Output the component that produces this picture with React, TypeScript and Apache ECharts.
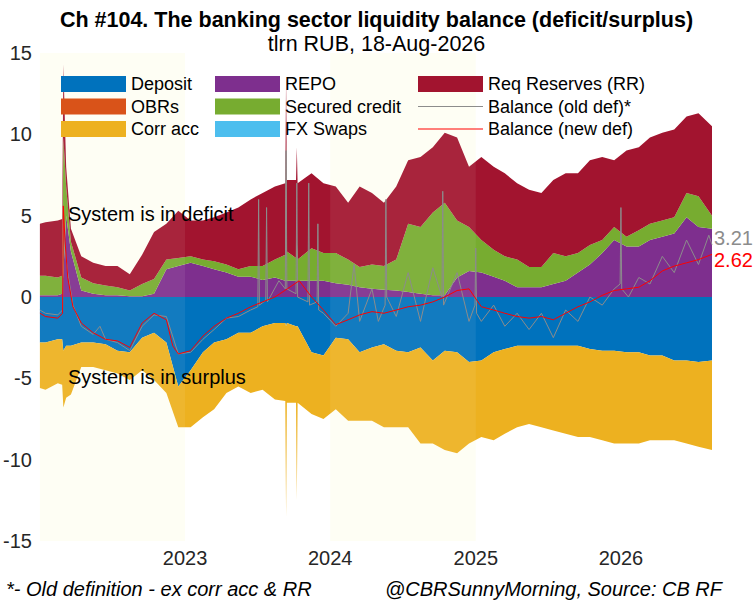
import React, { useEffect, useRef } from 'react';
import * as echarts from 'echarts';

// stacked components, tlrn RUB (deposit and corr acc drawn below zero)
const stackDates = [
  '2022-01-01', '2022-01-15', '2022-02-15', '2022-02-26', '2022-03-01', '2022-03-08', '2022-03-20',
  '2022-04-15', '2022-05-15', '2022-06-15', '2022-07-15', '2022-08-15', '2022-09-15', '2022-10-15',
  '2022-11-15', '2022-12-15', '2023-01-15', '2023-02-15', '2023-03-15', '2023-04-15', '2023-05-15',
  '2023-06-15', '2023-07-15', '2023-08-15', '2023-09-10', '2023-09-12', '2023-09-14', '2023-10-07',
  '2023-10-09', '2023-10-11', '2023-11-15', '2023-12-15', '2024-01-15', '2024-02-15', '2024-03-15',
  '2024-04-15', '2024-05-15', '2024-06-15', '2024-07-15', '2024-08-15', '2024-09-15', '2024-10-15',
  '2024-11-15', '2024-12-15', '2025-01-15', '2025-02-15', '2025-03-15', '2025-04-15', '2025-05-15',
  '2025-06-15', '2025-07-15', '2025-08-15', '2025-09-15', '2025-10-15', '2025-11-15', '2025-12-15',
  '2026-01-15', '2026-02-15', '2026-03-15', '2026-04-15', '2026-05-15', '2026-06-15', '2026-07-15',
  '2026-08-18',
];
const deposit = [
  -2.8, -2.8, -2.6, -2.6, -3.3, -3.0, -3.0, -2.8, -2.8, -2.9, -3.3, -3.4, -2.5, -2.2,
  -2.8, -5.5, -4.5, -3.4, -2.8, -2.6, -2.2, -2.2, -1.8, -1.6, -1.6, -1.8, -1.6, -1.8,
  -1.8, -1.8, -3.4, -3.6, -2.5, -2.6, -3.4, -3.1, -2.9, -3.3, -3.4, -3.1, -3.9, -3.3,
  -3.4, -4.0, -3.9, -3.4, -3.2, -3.0, -3.0, -3.0, -3.0, -3.0, -3.0, -3.2, -3.3, -3.3,
  -3.4, -3.4, -3.6, -3.6, -3.9, -3.9, -4.0, -3.9,
];
const corrAcc = [
  -2.8, -2.9, -2.7, -2.8, -3.5, -3.2, -3.0, -1.5, -1.5, -1.6, -1.4, -1.7, -2.0, -2.9,
  -3.1, -2.5, -3.5, -4.0, -4.1, -3.3, -3.3, -3.7, -3.9, -4.7, -4.8, -11.7, -4.9, -4.7,
  -10.7, -4.7, -3.8, -3.9, -4.4, -5.0, -4.2, -4.5, -5.1, -4.7, -4.6, -5.9, -5.1, -6.1,
  -6.2, -5.0, -4.7, -5.4, -5.2, -5.0, -4.8, -5.0, -5.2, -5.4, -5.6, -5.4, -5.5, -5.7,
  -5.6, -5.6, -5.2, -5.2, -4.9, -5.1, -5.2, -5.5,
];
const repo = [
  0.1, 0.1, 0.1, 0.2, 1.5, 5.0, 2.8, 0.4, 0.2, 0.1, 0.1, 0.05, 0.05, 0.2,
  1.7, 1.9, 2.1, 1.9, 1.7, 1.5, 1.25, 1.25, 1.05, 1.2, 1.0, 1.0, 1.0, 1.0,
  1.0, 1.0, 1.0, 1.0, 0.85, 0.75, 0.6, 0.5, 0.45, 0.4, 0.3, 0.2, 0.1, 0.1,
  1.2, 1.6, 1.5, 1.25, 1.0, 0.6, 0.6, 0.6, 0.8, 1.0, 1.5, 2.0, 2.7, 3.5,
  3.1, 3.1, 3.5, 3.7, 3.9, 4.9, 4.3, 4.2,
];
const securedCredit = [
  1.2, 1.2, 1.1, 1.1, 8.3, 1.8, 0.6, 0.8, 0.65, 0.6, 0.5, 0.35, 0.75, 0.9,
  0.6, 0.5, 0.4, 0.4, 0.5, 0.5, 0.45, 0.65, 0.85, 1.1, 1.6, 8.5, 1.8, 1.4,
  2.5, 1.3, 2.0, 1.7, 1.85, 1.55, 1.25, 1.5, 1.45, 1.9, 4.2, 4.1, 5.1, 5.7,
  3.5, 2.7, 2.0, 1.65, 1.5, 1.7, 1.25, 1.25, 1.9, 1.5, 1.2, 1.2, 0.8, 0.8,
  0.6, 1.0, 1.0, 1.0, 1.0, 1.5, 1.9, 0.8,
];
const reqReserves = [
  3.2, 3.3, 3.5, 3.5, 4.5, 1.2, 0.8, 1.3, 1.25, 1.2, 1.3, 1.0, 1.8, 2.9,
  2.2, 2.9, 2.2, 2.4, 2.7, 3.2, 3.8, 4.1, 4.5, 4.5, 4.4, 4.0, 4.4, 4.8,
  5.7, 4.7, 4.6, 4.3, 4.1, 3.5, 4.95, 4.4, 3.9, 4.5, 3.9, 4.3, 4.0, 4.3,
  5.1, 3.7, 5.1, 5.1, 5.1, 4.7, 4.75, 4.55, 4.5, 5.1, 4.9, 5.2, 5.1, 4.1,
  5.3, 5.1, 5.3, 5.4, 5.4, 4.7, 5.1, 5.5,
];

// balance, new definition
const newDefDates = [
  '2022-01-01', '2022-01-15', '2022-02-15', '2022-02-27', '2022-03-01', '2022-03-05', '2022-03-12',
  '2022-03-25', '2022-04-15', '2022-05-15', '2022-06-15', '2022-07-15', '2022-08-15', '2022-09-15',
  '2022-10-15', '2022-11-15', '2022-12-01', '2022-12-15', '2023-01-15', '2023-02-15', '2023-03-15',
  '2023-04-15', '2023-05-15', '2023-06-15', '2023-07-15', '2023-08-15', '2023-09-15', '2023-10-15',
  '2023-11-15', '2023-12-15', '2024-01-15', '2024-02-15', '2024-03-15', '2024-04-15', '2024-05-15',
  '2024-06-15', '2024-07-15', '2024-08-15', '2024-09-15', '2024-10-15', '2024-11-15', '2024-12-15',
  '2025-01-15', '2025-02-15', '2025-03-15', '2025-04-15', '2025-05-15', '2025-06-15', '2025-07-15',
  '2025-08-15', '2025-09-15', '2025-10-15', '2025-11-15', '2025-12-15', '2026-01-15', '2026-02-15',
  '2026-03-15', '2026-04-15', '2026-05-15', '2026-06-15', '2026-07-15', '2026-08-18',
];
const balanceNew = [
  -1.0, -1.2, -1.3, -1.0, 5.6, 3.5, 1.2, -0.6, -1.6, -2.2, -2.6, -2.7, -3.1, -1.6,
  -1.0, -1.4, -3.0, -3.5, -3.3, -2.4, -1.8, -1.3, -1.0, -0.6, -0.3, 0.0, 0.5, 1.0,
  0.0, -0.8, -1.7, -1.4, -1.1, -0.9, -1.0, -0.8, -0.6, -0.5, -0.3, 0.0, 0.4, 0.5,
  -0.6, -0.8, -1.0, -1.2, -1.3, -1.2, -1.4, -1.0, -0.6, -0.3, 0.1, 0.4, 0.5, 0.6,
  1.0, 1.6, 1.9, 2.1, 2.3, 2.62,
];

// balance, old definition (ex corr acc & RR)
const oldDefDates = [
  '2022-01-01', '2022-01-15', '2022-02-15', '2022-02-27', '2022-03-01', '2022-03-05',
  '2022-03-12', '2022-03-25', '2022-04-15', '2022-05-15', '2022-06-01', '2022-06-15',
  '2022-07-15', '2022-08-15', '2022-09-15', '2022-10-15', '2022-11-15', '2022-12-15',
  '2023-01-15', '2023-02-15', '2023-03-15', '2023-04-15', '2023-05-15', '2023-06-15',
  '2023-07-03', '2023-07-05', '2023-07-07', '2023-07-23', '2023-07-25', '2023-07-27',
  '2023-08-25', '2023-09-10', '2023-09-12', '2023-09-14', '2023-10-07', '2023-10-09',
  '2023-10-11', '2023-11-06', '2023-11-08', '2023-11-10', '2023-11-29', '2023-12-01',
  '2023-12-03', '2023-12-15', '2024-01-15', '2024-02-15', '2024-03-01', '2024-03-15',
  '2024-04-15', '2024-05-01', '2024-05-18', '2024-05-20', '2024-05-22', '2024-06-15',
  '2024-07-15', '2024-08-15', '2024-09-15', '2024-10-08', '2024-10-10', '2024-10-12',
  '2024-11-15', '2024-12-15', '2024-12-30', '2025-01-01', '2025-01-03', '2025-01-15',
  '2025-02-15', '2025-03-15', '2025-04-15', '2025-05-15', '2025-06-15', '2025-07-15',
  '2025-08-15', '2025-09-15', '2025-10-15', '2025-11-15', '2025-12-15', '2025-12-30',
  '2026-01-01', '2026-01-03', '2026-01-20', '2026-02-15', '2026-03-15', '2026-04-15',
  '2026-05-15', '2026-06-15', '2026-07-15', '2026-08-10', '2026-08-18',
];
const balanceOld = [
  -0.8, -1.0, -1.1, -0.8, 5.0, 3.0,
  1.5, -0.5, -1.8, -2.3, -1.8, -2.6,
  -2.8, -3.3, -1.8, -1.1, -1.2, -3.5,
  -3.4, -2.6, -2.0, -1.3, -1.2, -0.8,
  -0.6, 6.0, -0.5, -0.2, 5.5, -0.3,
  1.0, 0.5, 9.0, 0.5, 0.2, 7.0,
  0.0, -0.3, 7.0, -0.5, -0.3, 4.5,
  -0.8, -1.0, -1.8, -1.0, 2.0, -1.5,
  0.5, -1.5, -0.5, 6.0, 0.0, -1.2,
  1.5, -1.5, 1.8, 0.0, 6.5, -0.5,
  1.5, -1.5, -0.5, 3.0, -1.0, -1.5,
  -0.5, -1.8, -1.0, -2.0, -1.0, -2.5,
  -0.8, -1.5, 0.0, -0.5, 0.5, 0.8,
  5.5, 0.5, 0.0, 1.2, 0.8, 2.5,
  1.5, 3.5, 2.0, 3.8, 3.21,
];

const shadedYears = [
  ['2022-01-01', '2023-01-01'],
  ['2024-01-01', '2025-01-01'],
];

const FONT = '"Liberation Sans", Arial, sans-serif';
const YEAR_MS = 365 * 24 * 3600 * 1000;
// thin line legend icon; the corner dots keep the box at 65x16
const LINE_ICON = 'path://M0,7.5h65v1h-65z M0,0h0.1v0.1h-0.1z M64.9,15.9h0.1v0.1h-0.1z';
const zip = (dates: string[], vals: number[]) => dates.map((d, i) => [d, vals[i]]);

const areaSeries = (name: string, color: string, vals: number[]) => ({
  name,
  type: 'line',
  stack: 'liq',
  data: zip(stackDates, vals),
  symbol: 'none',
  color,
  lineStyle: { width: 0 },
  areaStyle: { color, opacity: 1 },
  z: 2,
});

const App: React.FC = () => {
  const chartRef = useRef<HTMLDivElement>(null);

  useEffect(() => {
    if (!chartRef.current) return;
    const chart = echarts.init(chartRef.current, null, { renderer: 'svg' });
    const legendBase = {
      orient: 'vertical',
      itemWidth: 65,
      itemHeight: 16,
      itemGap: 4.5,
      padding: 0,
      selectedMode: false,
      textStyle: { fontSize: 18, color: '#000', fontFamily: FONT },
    };
    chart.setOption({
      animation: false,
      backgroundColor: '#fff',
      textStyle: { fontFamily: FONT },
      title: {
        text: 'Ch #104. The banking sector liquidity balance (deficit/surplus)',
        subtext: 'tlrn RUB, 18-Aug-2026',
        left: 'center',
        top: 4,
        itemGap: 2,
        textStyle: { fontSize: 21.5, fontWeight: 'bold', color: '#000', fontFamily: FONT },
        subtextStyle: { fontSize: 21.5, color: '#000', fontFamily: FONT },
      },
      legend: [
        {
          ...legendBase,
          left: 61,
          top: 75,
          data: [
            { name: 'Deposit', icon: 'rect' },
            { name: 'OBRs', icon: 'rect' },
            { name: 'Corr acc', icon: 'rect' },
          ],
        },
        {
          ...legendBase,
          left: 215,
          top: 75,
          data: [
            { name: 'REPO', icon: 'rect' },
            { name: 'Secured credit', icon: 'rect' },
            { name: 'FX Swaps', icon: 'rect' },
          ],
        },
        {
          ...legendBase,
          left: 418,
          top: 75,
          data: [
            { name: 'Req Reserves (RR)', icon: 'rect' },
            { name: 'Balance (old def)*', icon: LINE_ICON },
            { name: 'Balance (new def)', icon: LINE_ICON },
          ],
        },
      ],
      grid: { left: 38, right: 41, top: 53, bottom: 63 },
      xAxis: {
        type: 'time',
        min: '2022-01-01',
        max: '2026-08-18',
        minInterval: YEAR_MS,
        axisLine: { show: false },
        axisTick: { show: false },
        splitLine: { show: false },
        axisLabel: {
          formatter: (v: number) => {
            const d = new Date(v);
            const y = d.getFullYear();
            return d.getMonth() === 0 && d.getDate() === 1 && y > 2022 ? String(y) : '';
          },
          hideOverlap: false,
          fontSize: 20,
          color: '#262626',
          margin: 7,
        },
      },
      yAxis: [
        {
          type: 'value',
          min: -15,
          max: 15,
          interval: 5,
          axisLine: { show: false },
          axisTick: { show: true, inside: true, length: 5, lineStyle: { color: '#fff' } },
          splitLine: { show: false },
          axisLabel: { fontSize: 20, color: '#262626', margin: 8 },
        },
        {
          type: 'value',
          position: 'right',
          min: -15,
          max: 15,
          interval: 5,
          axisLine: { show: false },
          axisTick: { show: true, inside: true, length: 5, lineStyle: { color: '#fff' } },
          splitLine: { show: false },
          axisLabel: { show: false },
        },
      ],
      series: [
        {
          name: 'bands',
          type: 'line',
          data: [],
          z: 1,
          markArea: {
            silent: true,
            z: 1,
            itemStyle: { color: '#fefef5' },
            data: shadedYears.map(([a, b]) => [{ xAxis: a }, { xAxis: b }]),
          },
        },
        areaSeries('Deposit', '#0072BD', deposit),
        { name: 'OBRs', type: 'line', stack: 'liq', data: [], symbol: 'none', color: '#D95319' },
        areaSeries('Corr acc', '#EDB120', corrAcc),
        areaSeries('REPO', '#7E2F8E', repo),
        areaSeries('Secured credit', '#77AC30', securedCredit),
        { name: 'FX Swaps', type: 'line', stack: 'liq', data: [], symbol: 'none', color: '#4DBEEE' },
        areaSeries('Req Reserves (RR)', '#A2142F', reqReserves),
        {
          name: 'bandsFront',
          type: 'line',
          data: [],
          z: 3,
          markArea: {
            silent: true,
            z: 3,
            itemStyle: { color: 'rgba(255,255,245,0.07)' },
            data: shadedYears.map(([a, b]) => [{ xAxis: a }, { xAxis: b }]),
          },
        },
        {
          name: 'Balance (old def)*',
          type: 'line',
          data: zip(oldDefDates, balanceOld),
          symbol: 'none',
          color: '#8c8c8c',
          lineStyle: { width: 1, color: '#8c8c8c' },
          z: 4,
          endLabel: {
            show: true,
            formatter: (p: any) => p.value[1].toFixed(2),
            color: '#8c8c8c',
            fontSize: 20,
            distance: 2,
            offset: [0, -7],
          },
        },
        {
          name: 'Balance (new def)',
          type: 'line',
          data: zip(newDefDates, balanceNew),
          symbol: 'none',
          color: '#ff0000',
          lineStyle: { width: 1, color: '#ff0000' },
          z: 5,
          endLabel: {
            show: true,
            formatter: (p: any) => p.value[1].toFixed(2),
            color: '#ff0000',
            fontSize: 20,
            distance: 2,
            offset: [0, 6],
          },
        },
      ],
      graphic: [
        {
          type: 'text',
          left: 68,
          top: 204,
          z: 100,
          style: { text: 'System is in deficit', fontSize: 20, fill: '#000', fontFamily: FONT },
        },
        {
          type: 'text',
          left: 68,
          top: 367,
          z: 100,
          style: { text: 'System is in surplus', fontSize: 20, fill: '#000', fontFamily: FONT },
        },
        {
          type: 'text',
          left: 6,
          top: 579,
          style: {
            text: '*- Old definition - ex corr acc & RR',
            fontSize: 20,
            fontStyle: 'italic',
            fill: '#000',
            fontFamily: FONT,
          },
        },
        {
          type: 'text',
          right: 31,
          top: 579,
          style: {
            text: '@CBRSunnyMorning, Source: CB RF',
            fontSize: 20,
            fontStyle: 'italic',
            fill: '#000',
            fontFamily: FONT,
          },
        },
      ],
    });
    return () => chart.dispose();
  }, []);

  return (
    <div
      ref={chartRef}
      style={{ position: 'absolute', left: 0, top: 0, width: 753, height: 604 }}
    />
  );
};

export default App;
